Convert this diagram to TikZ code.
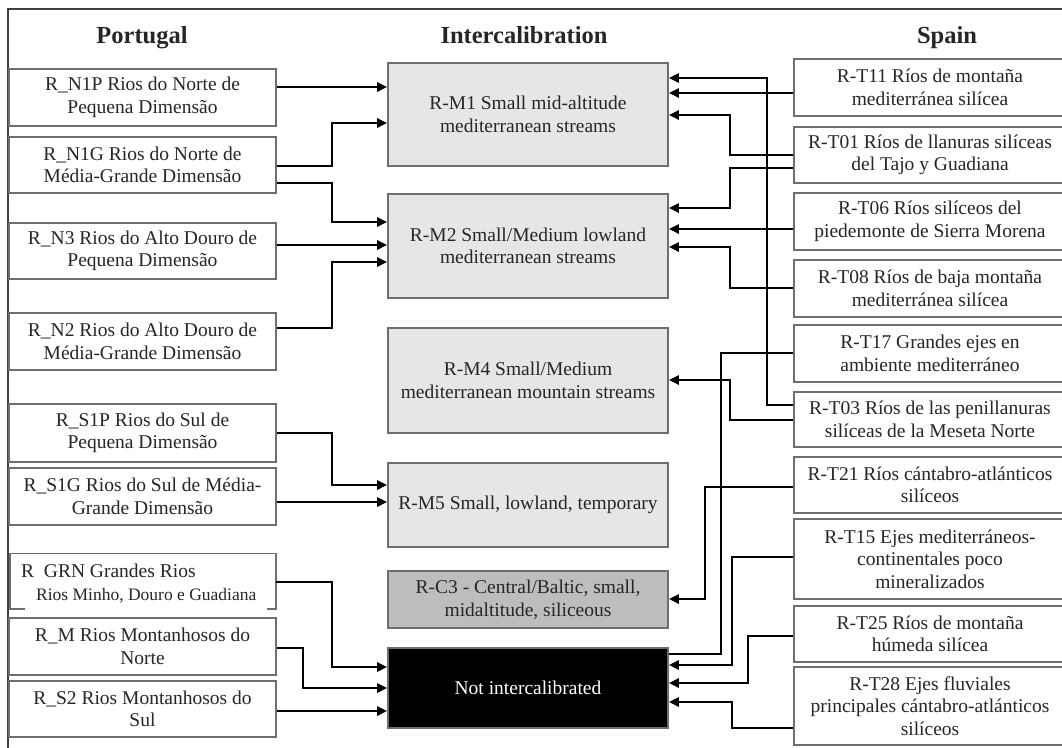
\documentclass[tikz,border=0pt]{standalone}
\usepackage{fontspec}
\setmainfont{Liberation Serif}
\usetikzlibrary{arrows.meta}
\newcommand\bodyfont{\fontsize{19.5}{22.5}\selectfont}
\newcommand\smallbody{\fontsize{17.5}{20}\selectfont}
\newcommand\headfont{\fontsize{24.5}{28}\selectfont\bfseries}
\definecolor{midgray}{HTML}{E6E6E6}
\definecolor{cthree}{HTML}{BDBDBD}
\definecolor{edgegray}{HTML}{6E6E6E}
\definecolor{txt}{HTML}{262626}
\begin{document}
\begin{tikzpicture}[x=1pt,y=-1pt,
  box/.style={draw=edgegray, line width=1.6pt, inner sep=0pt, align=center, font=\bodyfont, text=txt},
  lbox/.style={box, fill=white, minimum width=267pt},
  mbox/.style={box, fill=midgray, minimum width=280pt},
  rbox/.style={box, fill=white, minimum width=272pt},
  edgeline/.style={draw=edgegray, line width=1.6pt},
  head/.style={font=\headfont, text=txt, inner sep=0pt, anchor=base},
  conn/.style={line width=2.8pt, black},
  arr/.style={conn, -{Triangle[length=10pt,width=9pt]}}]
\useasboundingbox (0,0) rectangle (1062,747);
\clip (0,0) rectangle (1062,747);
\fill[white] (0,0) rectangle (1062,747);
% outer frame
\draw[edgeline, draw=black!75] (1070,9) -- (8,9) -- (8,760);

% headings
\node[head] (hP) at (142,43) {Portugal};
\node[head] (hI) at (524,43) {Intercalibration};
\node[head] (hS) at (947,43) {Spain};

% left column
\node[lbox, minimum height=57pt] (N1P) at (142.5,97.5) {R\_N1P Rios do Norte de\\Pequena Dimensão};
\node[lbox, minimum height=56pt] (N1G) at (142.5,165) {R\_N1G Rios do Norte de\\Média-Grande Dimensão};
\node[lbox, minimum height=56pt] (N3) at (142.5,251) {R\_N3 Rios do Alto Douro de\\Pequena Dimensão};
\node[lbox, minimum height=57pt] (N2) at (142.5,341.5) {R\_N2 Rios do Alto Douro de\\Média-Grande Dimensão};
\node[lbox, minimum height=58pt] (S1P) at (142.5,433) {R\_S1P Rios do Sul de\\Pequena Dimensão};
\node[lbox, minimum height=57pt] (S1G) at (142.5,496.5) {R\_S1G Rios do Sul de Média-\\Grande Dimensão};
\node[inner sep=0pt, minimum width=266pt, minimum height=55pt] (GRN) at (143,581) {};
\draw[edgeline] ([xshift=15]GRN.south west) -- (GRN.south west) -- (GRN.north west) -- (GRN.north east) -- (GRN.south east) -- ([xshift=-9]GRN.south east);
\node[anchor=base west, inner sep=0pt, font=\bodyfont, text=txt] (GRNa) at (21,577) {R\ \ GRN Grandes Rios};
\node[anchor=base west, inner sep=0pt, font=\smallbody, text=txt] (GRNb) at (36,600) {Rios Minho, Douro e Guadiana};
\node[lbox, minimum height=57pt] (RM) at (142.5,646.5) {R\_M Rios Montanhosos do\\Norte};
\node[lbox, minimum height=56pt] (S2) at (142.5,709) {R\_S2 Rios Montanhosos do\\Sul};

% middle column
\node[mbox, minimum height=103pt] (M1) at (528,114.5) {R-M1 Small mid-altitude\\mediterranean streams};
\node[mbox, minimum height=104pt] (M2) at (528,246) {R-M2 Small/Medium lowland\\mediterranean streams};
\node[mbox, minimum height=105pt] (M4) at (528,380.5) {R-M4 Small/Medium\\mediterranean mountain streams};
\node[mbox, minimum height=84pt] (M5) at (528,505) {R-M5 Small, lowland, temporary};
\node[mbox, fill=cthree, minimum height=57pt] (C3) at (528,599.5) {R-C3 - Central/Baltic, small,\\midaltitude, siliceous};
\node[mbox, fill=black, text=white, minimum height=80pt] (NI) at (528,688) {Not intercalibrated};

% right column
\node[rbox, minimum height=57pt] (T11) at (930,87.5) {R-T11 Ríos de montaña\\mediterránea silícea};
\node[rbox, minimum height=56pt] (T01) at (930,155) {R-T01 Ríos de llanuras silíceas\\del Tajo y Guadiana};
\node[rbox, minimum height=57pt] (T06) at (930,221.5) {R-T06 Ríos silíceos del\\piedemonte de Sierra Morena};
\node[rbox, minimum height=57pt] (T08) at (930,288.5) {R-T08 Ríos de baja montaña\\mediterránea silícea};
\node[rbox, minimum height=57pt] (T17) at (930,353.5) {R-T17 Grandes ejes en\\ambiente mediterráneo};
\node[rbox, minimum height=55pt] (T03) at (930,419.5) {R-T03 Ríos de las penillanuras\\silíceas de la Meseta Norte};
\node[rbox, minimum height=56pt] (T21) at (930,485) {R-T21 Ríos cántabro-atlánticos\\silíceos};
\node[rbox, minimum height=80pt] (T15) at (930,559) {R-T15 Ejes mediterráneos-\\continentales poco\\mineralizados};
\node[rbox, minimum height=56pt] (T25) at (930,634) {R-T25 Ríos de montaña\\húmeda silícea};
\node[rbox, minimum height=78pt] (T28) at (930,706) {R-T28 Ejes fluviales\\principales cántabro-atlánticos\\silíceos};

% left connectors
\draw[arr] (N1P.east |- 0,87) -- (M1.west |- 0,87);
\draw[arr] (N1G.east |- 0,166) -| (332,123) -- (M1.west |- 0,123);
\draw[arr] (N1G.east |- 0,183) -| (332,222) -- (M2.west |- 0,222);
\draw[arr] (N3.east |- 0,245) -- (M2.west |- 0,245);
\draw[arr] (N2.east |- 0,328) -| (332,262) -- (M2.west |- 0,262);
\draw[arr] (S1P.east |- 0,433) -| (332,485) -- (M5.west |- 0,485);
\draw[arr] (S1G.east |- 0,502) -- (M5.west |- 0,502);
\draw[arr] (GRN.east |- 0,582) -| (332,667) -- (NI.west |- 0,667);
\draw[arr] (RM.east |- 0,648) -| (303,688) -- (NI.west |- 0,688);
\draw[arr] (S2.east |- 0,711) -- (NI.west |- 0,711);

% right connectors
\draw[arr] (T03.west |- 0,405) -| (767,78) -- (M1.east |- 0,78);
\draw[arr] (T11.west |- 0,93) -- (M1.east |- 0,93);
\draw[arr] (T01.west |- 0,155) -| (730,115) -- (M1.east |- 0,115);
\draw[arr] (T01.west |- 0,168) -| (730,208) -- (M2.east |- 0,208);
\draw[arr] (T06.west |- 0,229) -- (M2.east |- 0,229);
\draw[arr] (T08.west |- 0,288) -| (730,247) -- (M2.east |- 0,247);
\draw[arr] (T03.west |- 0,420) -| (730,380) -- (M4.east |- 0,380);
\draw[conn] (T17.west |- 0,353) -| (721,654) -- (NI.east |- 0,654);
\draw[arr] (T21.west |- 0,487) -| (705,599) -- (C3.east |- 0,599);
\draw[arr] (T15.west |- 0,557) -| (732,665) -- (NI.east |- 0,665);
\draw[arr] (T25.west |- 0,636) -| (748,683) -- (NI.east |- 0,683);
\draw[arr] (T28.west |- 0,728) -| (732,702) -- (NI.east |- 0,702);
\end{tikzpicture}
\end{document}
